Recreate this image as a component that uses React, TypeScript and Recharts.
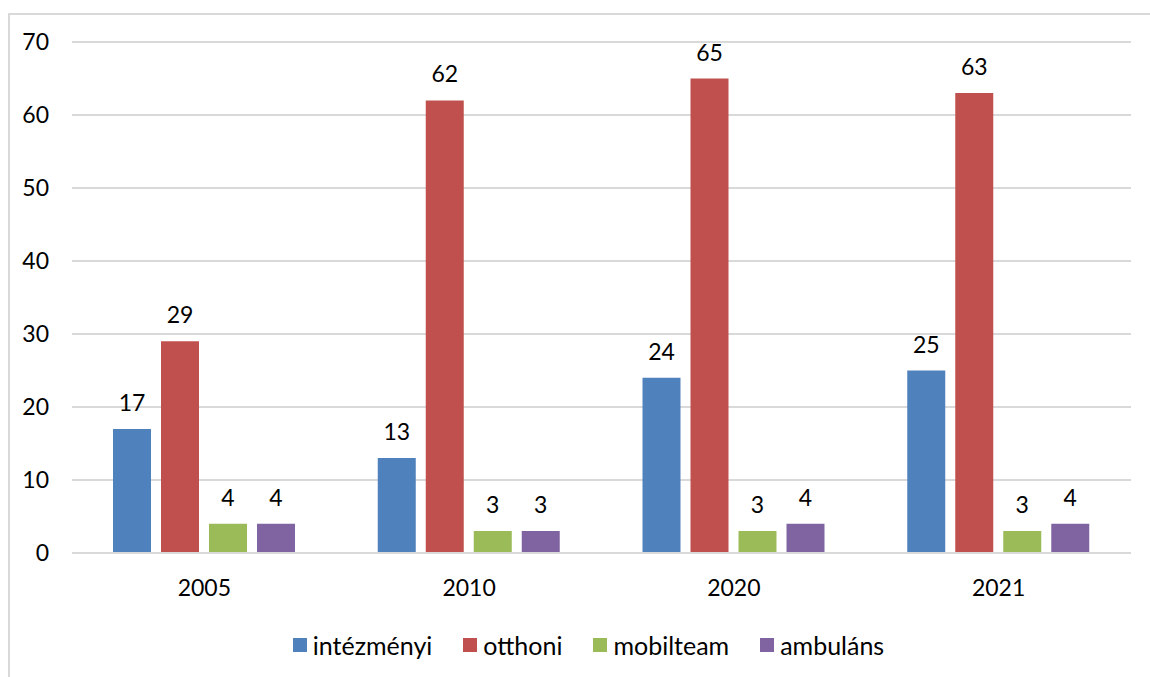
import { BarChart, Bar, XAxis, YAxis, CartesianGrid, Legend, LabelList } from "recharts";

const years = ["2005", "2010", "2020", "2021"];
const intezmenyi = [17, 13, 24, 25];
const otthoni = [29, 62, 65, 63];
const mobilteam = [4, 3, 3, 3];
const ambulans = [4, 3, 4, 4];
const yTicks = [0, 10, 20, 30, 40, 50, 60, 70];

const series = [
  { key: "intezmenyi", name: "intézményi", color: "#4F81BD" },
  { key: "otthoni", name: "otthoni", color: "#C0504D" },
  { key: "mobilteam", name: "mobilteam", color: "#9BBB59" },
  { key: "ambulans", name: "ambuláns", color: "#8064A2" },
];

const data = years.map((year, i) => ({
  year,
  intezmenyi: intezmenyi[i],
  otthoni: otthoni[i],
  mobilteam: mobilteam[i],
  ambulans: ambulans[i],
}));

const FONT = "Lato, 'Open Sans', sans-serif";

function LegendContent() {
  return (
    <div
      style={{
        display: "flex",
        justifyContent: "center",
        gap: 31,
        paddingLeft: 17,
        fontFamily: FONT,
        fontSize: 25,
        lineHeight: "30px",
        color: "#000",
      }}
    >
      {series.map((s) => (
        <div key={s.key} style={{ display: "flex", alignItems: "center" }}>
          <span style={{ display: "inline-block", width: 14, height: 14, background: s.color, marginRight: 6 }} />
          <span>{s.name}</span>
        </div>
      ))}
    </div>
  );
}

export default function App() {
  return (
    <div
      style={{
        position: "absolute",
        top: 13,
        left: 8,
        right: 0,
        bottom: 0,
        borderTop: "2px solid #d9d9d9",
        borderLeft: "2px solid #d9d9d9",
        background: "#fff",
      }}
    >
      <BarChart
        width={1140}
        height={650}
        data={data}
        margin={{ top: 27, right: 19, bottom: 0, left: 0 }}
        barCategoryGap={41}
        barGap={10}
      >
        <CartesianGrid vertical={false} stroke="#d9d9d9" strokeWidth={2} />
        <XAxis
          dataKey="year"
          height={112}
          tickLine={false}
          tickSize={0}
          tickMargin={27}
          axisLine={{ stroke: "#d9d9d9", strokeWidth: 2 }}
          tick={{ fontSize: 23, fontFamily: FONT, fill: "#000" }}
        />
        <YAxis
          width={62}
          domain={[0, 70]}
          ticks={yTicks}
          axisLine={false}
          tickLine={false}
          tickSize={0}
          tickMargin={23}
          tick={{ fontSize: 23, fontFamily: FONT, fill: "#000" }}
        />
        <Legend
          verticalAlign="middle"
          align="center"
          layout="horizontal"
          wrapperStyle={{ top: 615, left: 0, width: 1140 }}
          content={() => <LegendContent />}
        />
        {series.map((s) => (
          <Bar key={s.key} dataKey={s.key} name={s.name} fill={s.color} isAnimationActive={false}>
            <LabelList
              dataKey={s.key}
              position="top"
              offset={18}
              style={{ fontSize: 23, fontFamily: FONT, fill: "#000" }}
            />
          </Bar>
        ))}
      </BarChart>
    </div>
  );
}
